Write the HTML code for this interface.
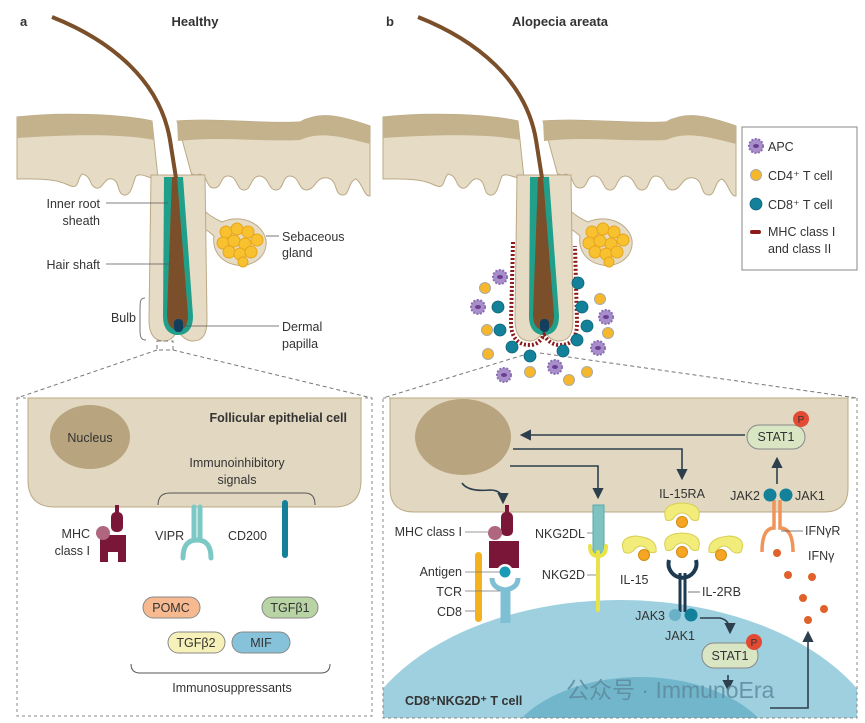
<!DOCTYPE html>
<html><head><meta charset="utf-8"><style>
html,body{margin:0;padding:0;background:#fff;overflow:hidden;width:865px;height:723px}
svg{display:block;position:absolute;left:0;top:0}
text{font-family:"Liberation Sans","Noto Sans CJK SC",sans-serif;fill:#333;font-size:12.5px}
.b{font-weight:bold}
.h{font-size:13px}
.p{font-size:10px}
</style></head><body>
<svg width="865" height="723" viewBox="0 0 865 723" xmlns="http://www.w3.org/2000/svg">
<defs>
<g id="skin">
 <path d="M17,117 C60,112 120,114 152,121 L158,178 C150,180 142,172 136,176 C132,186 131,196 124,195 C117,194 120,181 112,179 C104,177 103,190 96,188 C89,186 92,176 82,174 C77,179 79,189 71,186 C64,184 62,178 17,179 Z" fill="#e6dcc6" stroke="#bba985"/>
 <path d="M17,117 C60,112 120,114 152,121 L154,140 C120,133 60,135 17,138 Z" fill="#c4b28c"/>
 <path d="M177,121 C220,118 260,124 300,122 C318,112 336,114 370,126 L370,196 C364,197 362,182 356,179 C348,181 350,196 342,195 C334,194 338,181 328,178 C315,176 316,190 306,190 C298,189 300,177 290,176 C282,176 284,190 276,190 C268,190 270,178 260,176 C250,176 252,190 244,190 C236,190 238,176 228,176 C220,176 222,188 214,188 C206,188 208,176 200,174 L192,176 Z" fill="#e6dcc6" stroke="#bba985"/>
 <path d="M177,121 C220,118 260,124 300,122 C318,112 336,114 370,126 L370,144 C336,135 318,132 300,140 C260,142 220,136 178,141 Z" fill="#c4b28c"/>
 <path d="M192,174 C192,200 200,212 222,222 C240,214 262,222 266,240 C268,258 250,268 236,265 C220,262 212,250 214,236 C205,228 196,222 196,240 L196,175 Z" fill="#e6dcc6" stroke="#bba985"/>
 <path d="M151,175 L149,320 C149,335 155,341 164,341 C171,341 175,335 178,331 C181,335 185,341 193,341 C203,341 207,334 207,320 L205,175 Z" fill="#e6dcc6" stroke="#bba985"/>
 <path d="M164,177 L163,316 C163,330 170,335 178,335 C187,335 193,329 193,316 L183,177 Z" fill="#20a08a"/>
 <path d="M172,177 L167,314 C167,326 172,330 178,330 C185,330 188,325 188,314 L177,177 Z" fill="#7b4f2a"/>
 <path d="M52,17 C110,40 160,80 170,140 L176,178" fill="none" stroke="#7b4f2a" stroke-width="4"/>
 <rect x="174" y="319" width="9" height="13" rx="4" fill="#123f5e"/>
 <g fill="#f8c12f" stroke="#e8a51c" stroke-width="1">
  <circle cx="226" cy="232" r="6"/><circle cx="237" cy="229" r="6"/><circle cx="248" cy="232" r="6"/>
  <circle cx="257" cy="240" r="6"/><circle cx="223" cy="243" r="6"/><circle cx="234" cy="241" r="6"/>
  <circle cx="245" cy="244" r="6"/><circle cx="229" cy="252" r="6"/><circle cx="240" cy="254" r="6"/>
  <circle cx="251" cy="252" r="6"/><circle cx="243" cy="262" r="5"/>
 </g>
</g>
<g id="apc"><circle r="7" fill="#a88fcc" stroke="#8a6fb0" stroke-dasharray="2 1.5" stroke-width="2"/><ellipse rx="3" ry="2" fill="#6a3f8f"/></g>
<g id="cd4"><circle r="5.5" fill="#f6b82a" stroke="#aaa" stroke-width="1"/></g>
<g id="cd8"><circle r="6" fill="#13819a" stroke="#0d6275" stroke-width="0.8"/></g>
<marker id="ar" viewBox="0 0 10 10" refX="8" refY="5" markerWidth="7" markerHeight="7" orient="auto"><path d="M0,0 L10,5 L0,10 Z" fill="#2d3f4d"/></marker>
</defs>

<text x="20" y="26" class="b h">a</text>
<text x="195" y="26" class="b h" text-anchor="middle">Healthy</text>
<use href="#skin"/>
<g stroke="#555" stroke-width="0.8">
<line x1="106" y1="203" x2="168" y2="203"/><line x1="106" y1="264" x2="172" y2="264"/>
<line x1="266" y1="236" x2="279" y2="236"/><line x1="183" y1="326" x2="279" y2="326"/>
</g>
<text x="100" y="208" text-anchor="end">Inner root</text><text x="100" y="225" text-anchor="end">sheath</text>
<text x="100" y="269" text-anchor="end">Hair shaft</text>
<text x="136" y="322" text-anchor="end">Bulb</text>
<path d="M145,298 C140,298 140,302 140,310 L140,330 C140,337 141,340 146,340" fill="none" stroke="#777"/>
<text x="282" y="241">Sebaceous</text><text x="282" y="257">gland</text>
<text x="282" y="331">Dermal</text><text x="282" y="348">papilla</text>
<g fill="none" stroke="#777" stroke-dasharray="4 3" stroke-width="1">
<rect x="157" y="341" width="16" height="9"/>
<line x1="157" y1="350" x2="17" y2="398"/><line x1="173" y1="350" x2="372" y2="398"/>
</g>

<text x="386" y="26" class="b h">b</text>
<text x="560" y="26" class="b h" text-anchor="middle">Alopecia areata</text>
<g transform="translate(366,0)"><use href="#skin"/>
<path d="M147,242 L145,322 C145,338 152,345 164,345 C171,345 175,340 178,335 C181,340 186,345 194,345 C206,345 211,338 211,322 L209,246" fill="none" stroke="#8b1a1a" stroke-width="4" stroke-dasharray="2 2"/>
</g>
<g fill="none" stroke="#777" stroke-dasharray="4 3">
<line x1="530" y1="353" x2="383" y2="398"/><line x1="540" y1="353" x2="857" y2="398"/>
</g>
<g>
<use href="#apc" x="500" y="277"/><use href="#apc" x="478" y="307"/><use href="#apc" x="606" y="317"/>
<use href="#apc" x="598" y="348"/><use href="#apc" x="504" y="375"/><use href="#apc" x="555" y="367"/>
<use href="#cd4" x="485" y="288"/><use href="#cd4" x="600" y="299"/><use href="#cd4" x="487" y="330"/>
<use href="#cd4" x="608" y="333"/><use href="#cd4" x="488" y="354"/><use href="#cd4" x="530" y="372"/>
<use href="#cd4" x="587" y="372"/><use href="#cd4" x="569" y="380"/>
<use href="#cd8" x="578" y="283"/><use href="#cd8" x="498" y="307"/><use href="#cd8" x="582" y="307"/>
<use href="#cd8" x="500" y="330"/><use href="#cd8" x="587" y="326"/><use href="#cd8" x="577" y="340"/>
<use href="#cd8" x="512" y="347"/><use href="#cd8" x="530" y="356"/><use href="#cd8" x="563" y="351"/>
</g>
<rect x="742" y="127" width="115" height="143" fill="#fff" stroke="#888"/>
<use href="#apc" x="756" y="146"/><text x="768" y="151">APC</text>
<use href="#cd4" x="756" y="175"/><text x="768" y="180">CD4⁺ T cell</text>
<use href="#cd8" x="756" y="204"/><text x="768" y="209">CD8⁺ T cell</text>
<rect x="750" y="230" width="11" height="4" rx="2" fill="#8b1a1a"/>
<text x="768" y="236">MHC class I</text><text x="768" y="253">and class II</text>

<rect x="17" y="398" width="355" height="318" fill="none" stroke="#888" stroke-dasharray="3 3"/>
<path d="M28,398 L361,398 L361,480 Q361,507 334,507 L55,507 Q28,507 28,480 Z" fill="#e2d8c1" stroke="#bba985"/>
<ellipse cx="90" cy="437" rx="40" ry="32" fill="#b8a47e"/>
<text x="90" y="442" text-anchor="middle">Nucleus</text>
<text x="347" y="422" class="b" text-anchor="end">Follicular epithelial cell</text>
<text x="237" y="467" text-anchor="middle">Immunoinhibitory</text>
<text x="237" y="484" text-anchor="middle">signals</text>
<path d="M158,505 Q158,493 170,493 L305,493 Q315,493 315,505" fill="none" stroke="#555"/>
<g fill="#7a1738">
<rect x="115" y="505" width="4" height="8"/><rect x="111" y="512" width="12" height="20" rx="5"/>
<path d="M100,535 L126,535 L126,562 L118,562 L118,552 L108,552 L108,562 L100,562 Z"/>
</g>
<circle cx="103" cy="533" r="7" fill="#b0667e"/>
<text x="90" y="538" text-anchor="end">MHC</text><text x="90" y="555" text-anchor="end">class I</text>
<path d="M194,507 L194,540 M200,507 L200,540 M197,540 Q183,540 183,558 M197,540 Q211,540 211,558" fill="none" stroke="#7cc8c4" stroke-width="5" stroke-linecap="round"/>
<text x="155" y="540">VIPR</text>
<text x="228" y="540">CD200</text>
<path d="M285,503 L285,555" stroke="#15809a" stroke-width="6" stroke-linecap="round"/>
<g stroke="#888" stroke-width="1">
<rect x="143" y="597" width="57" height="21" rx="10.5" fill="#f7b98f"/>
<rect x="262" y="597" width="56" height="21" rx="10.5" fill="#b8d4a5"/>
<rect x="168" y="632" width="57" height="21" rx="10.5" fill="#f6f1b8"/>
<rect x="232" y="632" width="58" height="21" rx="10.5" fill="#86c2da"/>
</g>
<text x="171" y="612" text-anchor="middle">POMC</text>
<text x="290" y="612" text-anchor="middle">TGFβ1</text>
<text x="196" y="647" text-anchor="middle">TGFβ2</text>
<text x="261" y="647" text-anchor="middle">MIF</text>
<path d="M131,664 Q131,673 140,673 L321,673 Q330,673 330,664" fill="none" stroke="#555"/>
<text x="232" y="692" text-anchor="middle">Immunosuppressants</text>

<clipPath id="cr"><rect x="383" y="398" width="474" height="320"/></clipPath>
<g clip-path="url(#cr)">
<ellipse cx="620" cy="770" rx="270" ry="170" fill="#9ed0e0"/>
<ellipse cx="640" cy="765" rx="140" ry="88" fill="#72b6cc"/>
</g>
<rect x="383" y="398" width="474" height="320" fill="none" stroke="#888" stroke-dasharray="3 3"/>
<path d="M390,398 L848,398 L848,488 Q848,512 824,512 L414,512 Q390,512 390,488 Z" fill="#e2d8c1" stroke="#bba985"/>
<ellipse cx="463" cy="437" rx="48" ry="38" fill="#b8a47e"/>
<g fill="none" stroke="#2d3f4d" stroke-width="1.6">
<line x1="745" y1="435" x2="522" y2="435" marker-end="url(#ar)"/>
<line x1="777" y1="484" x2="777" y2="459" marker-end="url(#ar)"/>
<path d="M513,449 L682,449 L682,478" marker-end="url(#ar)"/>
<path d="M510,466 L598,466 L598,497" marker-end="url(#ar)"/>
<path d="M462,483 Q468,492 490,490 Q503,490 503,502" marker-end="url(#ar)"/>
<path d="M700,618 L720,618 Q730,620 730,632" marker-end="url(#ar)"/>
<line x1="728" y1="675" x2="728" y2="689" marker-end="url(#ar)"/>
<path d="M770,708 L808,708 L808,633" marker-end="url(#ar)"/>
</g>
<rect x="747" y="425" width="58" height="24" rx="12" fill="#d9e6c4" stroke="#888"/>
<text x="776" y="441" text-anchor="middle">STAT1</text>
<circle cx="801" cy="419" r="8" fill="#e24a33"/><text x="801" y="423" class="p" text-anchor="middle">P</text>
<path d="M774,500 L774,528 Q762,528 762,552 M780,500 L780,528 Q793,528 793,552" fill="none" stroke="#f0955a" stroke-width="3.5"/>
<circle cx="770" cy="495" r="6.5" fill="#13819a"/><circle cx="786" cy="495" r="6.5" fill="#13819a"/>
<text x="760" y="500" text-anchor="end">JAK2</text><text x="795" y="500">JAK1</text>
<line x1="781" y1="531" x2="803" y2="531" stroke="#555" stroke-width="0.8"/>
<text x="805" y="535">IFNγR</text><text x="808" y="560">IFNγ</text>
<g fill="#e0612a"><circle cx="777" cy="553" r="4"/><circle cx="788" cy="575" r="4"/><circle cx="812" cy="577" r="4"/><circle cx="803" cy="598" r="4"/><circle cx="824" cy="609" r="4"/><circle cx="808" cy="620" r="4"/></g>
<text x="682" y="498" text-anchor="middle">IL-15RA</text>
<g fill="#f2ec7a" stroke="#d8cf50">
<path d="M666,520 Q660,504 682,503 Q704,504 698,520 Q692,522 689,516 Q682,510 675,516 Q672,522 666,520 Z"/>
<path d="M666,550 Q660,534 682,533 Q704,534 698,550 Q692,552 689,546 Q682,540 675,546 Q672,552 666,550 Z"/>
<path d="M624,552 Q618,537 636,536 Q658,538 656,552 Q650,554 648,550 Q641,542 634,550 Q630,555 624,552 Z"/>
<path d="M709,552 Q707,538 729,536 Q747,537 741,552 Q735,555 731,550 Q724,542 717,550 Q715,554 709,552 Z"/>
</g>
<g fill="#f6a623" stroke="#d08a10"><circle cx="682" cy="522" r="5.5"/><circle cx="682" cy="552" r="5.5"/><circle cx="644" cy="555" r="5.5"/><circle cx="721" cy="555" r="5.5"/></g>
<text x="620" y="584">IL-15</text>
<path d="M669,560 A14,14 0 1 0 696,560" fill="none" stroke="#1d3a50" stroke-width="4"/>
<path d="M680,573 L680,612 M685,573 L685,612" stroke="#1d3a50" stroke-width="3"/>
<line x1="688" y1="592" x2="700" y2="592" stroke="#555" stroke-width="0.8"/>
<text x="702" y="596">IL-2RB</text>
<circle cx="675" cy="615" r="6" fill="#6ab1c8"/><circle cx="691" cy="615" r="6.5" fill="#13819a"/>
<text x="665" y="620" text-anchor="end">JAK3</text><text x="680" y="640" text-anchor="middle">JAK1</text>
<rect x="702" y="643" width="56" height="25" rx="12" fill="#d9e6c4" stroke="#888"/>
<text x="730" y="660" text-anchor="middle">STAT1</text>
<circle cx="754" cy="642" r="8" fill="#e24a33"/><text x="754" y="646" class="p" text-anchor="middle">P</text>
<g fill="#7a1738">
<rect x="505" y="505" width="4" height="8"/><rect x="501" y="512" width="12" height="24" rx="5"/>
<path d="M489,541 L519,541 L519,568 L489,568 Z"/>
</g>
<circle cx="495" cy="533" r="7" fill="#b0667e"/>
<rect x="475" y="552" width="7" height="70" rx="3.5" fill="#f5b21f"/>
<path d="M503,590 L503,623 M508,590 L508,623 M505,590 Q492,588 492,578 M505,590 Q518,588 518,578" fill="none" stroke="#7fbfd3" stroke-width="5"/>
<circle cx="505" cy="572" r="8" fill="#fff"/><circle cx="505" cy="572" r="5.5" fill="#1a9bb5"/>
<text x="462" y="536" text-anchor="end">MHC class I</text>
<text x="462" y="576" text-anchor="end">Antigen</text>
<text x="462" y="596" text-anchor="end">TCR</text>
<text x="462" y="616" text-anchor="end">CD8</text>
<g stroke="#777" stroke-width="0.8"><line x1="465" y1="532" x2="488" y2="532"/><line x1="465" y1="572" x2="500" y2="572"/><line x1="465" y1="591" x2="500" y2="591"/><line x1="465" y1="611" x2="475" y2="611"/><line x1="587" y1="533" x2="594" y2="533"/><line x1="587" y1="575" x2="597" y2="575"/></g>
<rect x="593" y="505" width="11" height="48" fill="#7ec3c0" stroke="#5aa"/>
<path d="M598,552 L598,610 M590,546 Q590,556 598,556 Q606,556 606,546" fill="none" stroke="#e9e34a" stroke-width="4" stroke-linecap="round"/>
<text x="585" y="538" text-anchor="end">NKG2DL</text>
<text x="585" y="579" text-anchor="end">NKG2D</text>
<text x="405" y="705" class="b">CD8⁺NKG2D⁺ T cell</text>
<text x="566" y="698" style="font-size:23px;fill:#5e8a9c;opacity:.85">公众号 · ImmunoEra</text>
</svg>
</body></html>
